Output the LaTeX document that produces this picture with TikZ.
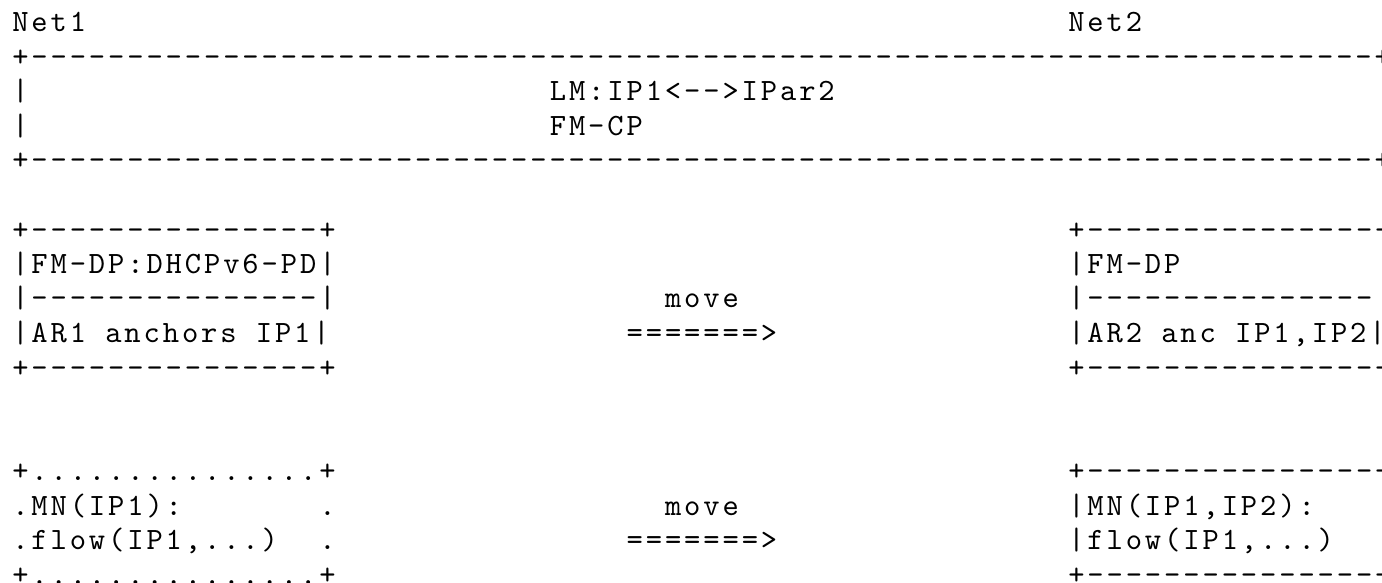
\documentclass[tikz,border=0pt]{standalone}
\usepackage{fontspec}
\newfontfamily\asciifont{lmmono10-regular.otf}[Ligatures=TeXOff,LetterSpace=9.4]
\newcommand\asciitext{\asciifont\fontsize{15.5pt}{17.25pt}\selectfont}

\begin{document}
\begin{tikzpicture}[x=9.6pt,y=-17.25pt]
  \tikzstyle{every node}=[anchor=base west,inner sep=0pt,xshift=0.73pt,font=\asciitext,text=black]
  \useasboundingbox (-5.2pt,16pt) rectangle (685.8pt,-275.5pt);

  % control plane
  \node (net1)  at (0,0)  {Net1};
  \node (net2)  at (55,0) {Net2};
  \node (cptop) at (0,1)  {+----------------------------------------------------------------------+};
  \node (cpl1)  at (0,2)  {|};
  \node (lm)    at (28,2) {LM:IP1<-->IPar2};
  \node (cpr1)  at (71,2) {|};
  \node (cpl2)  at (0,3)  {|};
  \node (fmcp)  at (28,3) {FM-CP};
  \node (cpr2)  at (71,3) {|};
  \node (cpbot) at (0,4)  {+----------------------------------------------------------------------+};

  % data plane, AR1 and AR2
  \node (ar1top) at (0,6)  {+---------------+};
  \node (ar1dp)  at (0,7)  {|FM-DP:DHCPv6-PD|};
  \node (ar1bar) at (0,8)  {|---------------|};
  \node (ar1anc) at (0,9)  {|AR1 anchors IP1|};
  \node (ar1bot) at (0,10) {+---------------+};
  \node (move1)  at (34,8) {move};
  \node (arrow1) at (32,9) {=======>};
  \node (ar2top) at (55,6)  {+---------------+};
  \node (ar2dp)  at (55,7)  {|FM-DP};
  \node (ar2r)   at (71,7)  {|};
  \node (ar2bar) at (55,8)  {|---------------|};
  \node (ar2anc) at (55,9)  {|AR2 anc IP1,IP2|};
  \node (ar2bot) at (55,10) {+---------------+};

  % mobile node
  \node (mn1top)  at (0,13)  {+...............+};
  \node (mn1name) at (0,14)  {.MN(IP1):};
  \node (mn1r1)   at (16,14) {.};
  \node (mn1flow) at (0,15)  {.flow(IP1,...)};
  \node (mn1r2)   at (16,15) {.};
  \node (mn1bot)  at (0,16)  {+...............+};
  \node (move2)   at (34,14) {move};
  \node (arrow2)  at (32,15) {=======>};
  \node (mn2top)  at (55,13) {+---------------+};
  \node (mn2name) at (55,14) {|MN(IP1,IP2):};
  \node (mn2r1)   at (71,14) {|};
  \node (mn2flow) at (55,15) {|flow(IP1,...)};
  \node (mn2r2)   at (71,15) {|};
  \node (mn2bot)  at (55,16) {+---------------+};
\end{tikzpicture}
\end{document}
